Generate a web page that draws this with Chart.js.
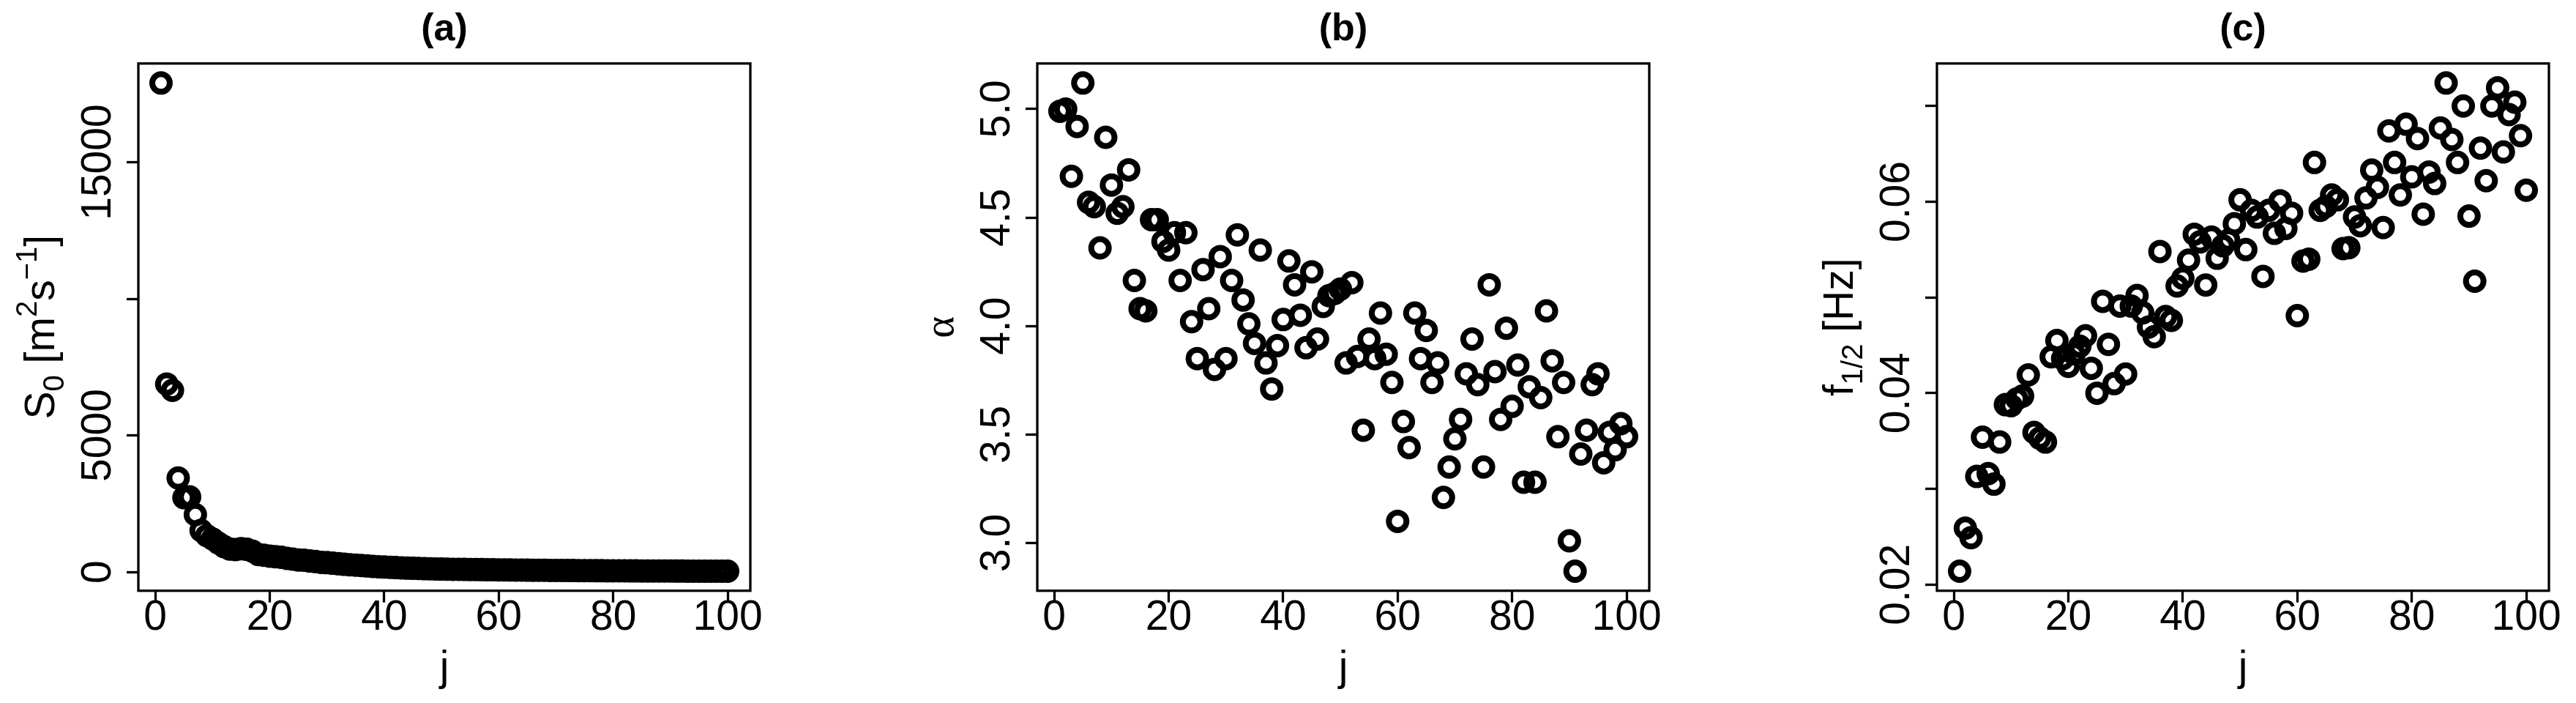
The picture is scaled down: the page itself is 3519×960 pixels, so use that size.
<!DOCTYPE html>
<html>
<head>
<meta charset="utf-8">
<title>S0, alpha, f1/2 versus j</title>
<script src="https://cdn.jsdelivr.net/npm/chart.js@4.4.1/dist/chart.umd.min.js"></script>
<style>
  html, body { margin: 0; padding: 0; background: #fff; overflow: hidden; }
  body { position: relative; width: 3519px; height: 960px; }
  .panel { position: absolute; top: 0; width: 1070px; height: 960px; }
</style>
</head>
<body>
<div class="panel" style="left:0px"><canvas id="chartA"></canvas></div>
<div class="panel" style="left:1228px"><canvas id="chartB"></canvas></div>
<div class="panel" style="left:2457px"><canvas id="chartC"></canvas></div>

<script>
/* ── data ── */
var jIndex = [
  1, 2, 3, 4, 5, 6, 7, 8, 9, 10, 11, 12, 13, 14, 15, 16, 17, 18, 19, 20,
  21, 22, 23, 24, 25, 26, 27, 28, 29, 30, 31, 32, 33, 34, 35, 36, 37, 38, 39, 40,
  41, 42, 43, 44, 45, 46, 47, 48, 49, 50, 51, 52, 53, 54, 55, 56, 57, 58, 59, 60,
  61, 62, 63, 64, 65, 66, 67, 68, 69, 70, 71, 72, 73, 74, 75, 76, 77, 78, 79, 80,
  81, 82, 83, 84, 85, 86, 87, 88, 89, 90, 91, 92, 93, 94, 95, 96, 97, 98, 99, 100
];

/* (a) S0 [m2 s-1] */
var s0Values = [
  17900, 6880, 6650, 3440, 2720, 2750, 2100, 1520, 1330, 1210,
  1060, 930, 840, 820, 850, 830, 760, 640, 610, 580,
  560, 540, 500, 470, 440, 430, 400, 380, 350, 340,
  320, 300, 280, 265, 250, 235, 220, 205, 190, 180,
  170, 160, 150, 140, 135, 130, 120, 115, 110, 105,
  100, 98, 95, 92, 90, 87, 85, 82, 80, 77,
  75, 72, 70, 68, 66, 64, 62, 60, 58, 56,
  55, 53, 52, 50, 48, 47, 46, 45, 43, 42,
  41, 40, 39, 38, 37, 36, 35, 35, 34, 33,
  32, 32, 31, 30, 30, 29, 29, 28, 28, 27
];

/* (b) alpha */
var alphaValues = [
  4.99, 5.00, 4.69, 4.92, 5.12, 4.57, 4.55, 4.36, 4.87, 4.65,
  4.52, 4.55, 4.72, 4.21, 4.08, 4.07, 4.49, 4.49, 4.39, 4.35,
  4.43, 4.21, 4.43, 4.02, 3.85, 4.26, 4.08, 3.80, 4.32, 3.85,
  4.21, 4.42, 4.12, 4.01, 3.92, 4.35, 3.83, 3.71, 3.91, 4.03,
  4.30, 4.19, 4.05, 3.90, 4.25, 3.94, 4.09, 4.14, 4.15, 4.17,
  3.83, 4.20, 3.86, 3.52, 3.94, 3.85, 4.06, 3.87, 3.74, 3.10,
  3.56, 3.44, 4.06, 3.85, 3.98, 3.74, 3.83, 3.21, 3.35, 3.48,
  3.57, 3.78, 3.94, 3.73, 3.35, 4.19, 3.79, 3.57, 3.99, 3.63,
  3.82, 3.28, 3.72, 3.28, 3.67, 4.07, 3.84, 3.49, 3.74, 3.01,
  2.87, 3.41, 3.52, 3.73, 3.78, 3.37, 3.51, 3.43, 3.55, 3.49
];

/* (c) f1/2 [Hz] */
var fHalfValues = [
  0.0214, 0.0259, 0.0249, 0.0313, 0.0354, 0.0316, 0.0305, 0.0349, 0.0388, 0.0387,
  0.0394, 0.0397, 0.0419, 0.0359, 0.0353, 0.0349, 0.0438, 0.0455, 0.0436, 0.0428,
  0.0441, 0.0449, 0.0460, 0.0426, 0.0400, 0.0496, 0.0451, 0.0410, 0.0491, 0.0420,
  0.0491, 0.0502, 0.0484, 0.0469, 0.0459, 0.0548, 0.0480, 0.0476, 0.0512, 0.0520,
  0.0539, 0.0566, 0.0558, 0.0513, 0.0563, 0.0541, 0.0554, 0.0560, 0.0577, 0.0602,
  0.0550, 0.0591, 0.0584, 0.0522, 0.0591, 0.0567, 0.0601, 0.0572, 0.0588, 0.0481,
  0.0538, 0.0540, 0.0641, 0.0591, 0.0595, 0.0607, 0.0602, 0.0551, 0.0552, 0.0584,
  0.0575, 0.0604, 0.0633, 0.0615, 0.0573, 0.0674, 0.0641, 0.0607, 0.0681, 0.0626,
  0.0666, 0.0587, 0.0631, 0.0619, 0.0677, 0.0724, 0.0665, 0.0641, 0.0700, 0.0585,
  0.0517, 0.0656, 0.0622, 0.0700, 0.0719, 0.0652, 0.0691, 0.0704, 0.0669, 0.0612
];

/* ticks and labels (empty label = tick without text, as R drops it) */
var xTicks      = [0, 20, 40, 60, 80, 100];
var yTicksA     = [0, 5000, 10000, 15000];
var yLabelsA    = ['0', '5000', '', '15000'];
var yTicksB     = [3.0, 3.5, 4.0, 4.5, 5.0];
var yLabelsB    = ['3.0', '3.5', '4.0', '4.5', '5.0'];
var yTicksC     = [0.02, 0.03, 0.04, 0.05, 0.06, 0.07];
var yLabelsC    = ['0.02', '', '0.04', '', '0.06', ''];

var FONT = '"Liberation Sans", Arial, Helvetica, sans-serif';

/* R pads axis range by 4% on each side */
function rLimits(vals) {
  var lo = Math.min.apply(null, vals);
  var hi = Math.max.apply(null, vals);
  var pad = (hi - lo) * 0.04;
  return [lo - pad, hi + pad];
}

/* rotated label with sub/superscripts: parts = [{t, s, dy}] */
function drawRotatedRich(ctx, parts, x, y, size, family) {
  var total = 0;
  parts.forEach(function(p) {
    ctx.font = Math.round(size * (p.s || 1)) + 'px ' + (p.f || family);
    p._w = ctx.measureText(p.t).width;
    total += p._w;
  });
  ctx.save();
  ctx.translate(x, y);
  ctx.rotate(-Math.PI / 2);
  ctx.fillStyle = '#000';
  ctx.textAlign = 'left';
  ctx.textBaseline = 'alphabetic';
  var cx = -total / 2;
  parts.forEach(function(p) {
    ctx.font = Math.round(size * (p.s || 1)) + 'px ' + (p.f || family);
    ctx.fillText(p.t, cx, (p.dy || 0) * size);
    cx += p._w;
  });
  ctx.restore();
}

/* box, y tick labels and y title drawn like R's plot() */
function rPanelPlugin(yLabels, yTitle) {
  return {
    id: 'rPanel',
    afterDraw: function(chart) {
      var ctx = chart.ctx;
      var area = chart.chartArea;
      var yScale = chart.scales.y;

      ctx.save();
      ctx.strokeStyle = '#000';
      ctx.lineWidth = 3.3;
      ctx.strokeRect(area.left, area.top, area.right - area.left, area.bottom - area.top);

      /* y tick labels, parallel to the axis */
      ctx.fillStyle = '#000';
      ctx.font = '57px ' + FONT;
      ctx.textAlign = 'center';
      ctx.textBaseline = 'alphabetic';
      yScale.ticks.forEach(function(t, i) {
        if (!yLabels[i]) return;
        var py = yScale.getPixelForValue(t.value);
        ctx.save();
        ctx.translate(area.left - 38, py);
        ctx.rotate(-Math.PI / 2);
        ctx.fillText(yLabels[i], 0, 0);
        ctx.restore();
      });
      ctx.restore();

      drawRotatedRich(ctx, yTitle, area.left - 115, (area.top + area.bottom) / 2, 57, FONT);
    }
  };
}

function makePanel(canvasId, yValues, yTicks, yLabels, yTitle, title) {
  var xr = rLimits(jIndex);
  var yr = rLimits(yValues);
  var points = jIndex.map(function(j, i) { return { x: j, y: yValues[i] }; });

  return new Chart(document.getElementById(canvasId), {
    type: 'scatter',
    data: {
      datasets: [{
        data: points,
        pointStyle: 'circle',
        pointRadius: 12,
        pointHoverRadius: 12,
        pointBorderWidth: 8,
        pointBorderColor: '#000',
        pointBackgroundColor: 'rgba(0,0,0,0)',
        clip: false
      }]
    },
    options: {
      responsive: true,
      maintainAspectRatio: false,
      animation: false,
      events: [],
      layout: { padding: { left: 0, right: 45, top: 0, bottom: 0 } },
      plugins: {
        legend: { display: false },
        tooltip: { enabled: false },
        title: {
          display: true,
          fullSize: false,
          text: title,
          color: '#000',
          font: { family: FONT, size: 52, weight: 'bold', lineHeight: 1 },
          padding: { top: 14.5, bottom: 20.2 }
        }
      },
      scales: {
        x: {
          type: 'linear',
          position: 'bottom',
          min: xr[0],
          max: xr[1],
          afterBuildTicks: function(s) {
            s.ticks = xTicks.map(function(v) { return { value: v }; });
          },
          afterFit: function(s) { s.height = 153.3; },
          grid: { drawOnChartArea: false, drawTicks: true, tickLength: 16, tickWidth: 3.3, tickColor: '#000' },
          border: { display: false },
          ticks: {
            color: '#000',
            font: { family: FONT, size: 57, lineHeight: 1 },
            padding: -7,
            maxRotation: 0,
            autoSkip: false
          },
          title: {
            display: true,
            text: 'j',
            color: '#000',
            font: { family: FONT, size: 57, lineHeight: 1 },
            padding: { top: 0, bottom: 18.5 }
          }
        },
        y: {
          type: 'linear',
          position: 'left',
          min: yr[0],
          max: yr[1],
          afterBuildTicks: function(s) {
            s.ticks = yTicks.map(function(v) { return { value: v }; });
          },
          afterFit: function(s) { s.width = 189; },
          grid: { drawOnChartArea: false, drawTicks: true, tickLength: 16, tickWidth: 3.3, tickColor: '#000' },
          border: { display: false },
          ticks: { display: false }
        }
      }
    },
    plugins: [rPanelPlugin(yLabels, yTitle)]
  });
}

makePanel('chartA', s0Values, yTicksA, yLabelsA, [
  { t: 'S' },
  { t: '0', s: 0.7, dy: 0.22 },
  { t: ' [m' },
  { t: '2', s: 0.7, dy: -0.42 },
  { t: 's' },
  { t: '\u22121', s: 0.7, dy: -0.42 },
  { t: ']' }
], '(a)');

makePanel('chartB', alphaValues, yTicksB, yLabelsB, [
  { t: '\u03B1', f: '"Liberation Serif", "DejaVu Serif", serif' }
], '(b)');

makePanel('chartC', fHalfValues, yTicksC, yLabelsC, [
  { t: 'f' },
  { t: '1/2', s: 0.7, dy: 0.22 },
  { t: ' [Hz]' }
], '(c)');
</script>
</body>
</html>
